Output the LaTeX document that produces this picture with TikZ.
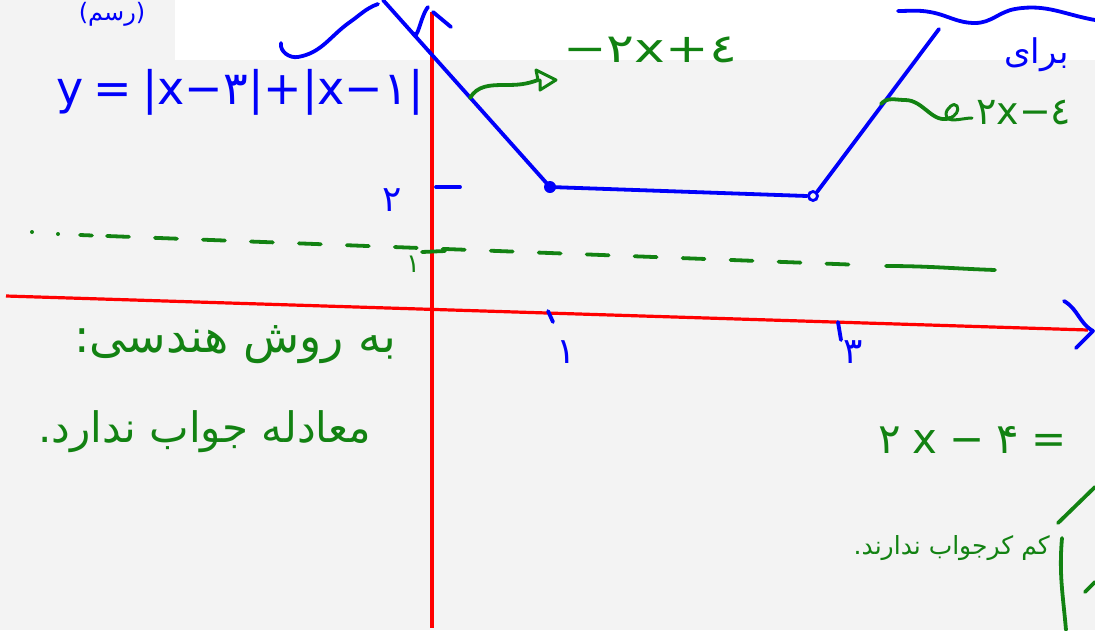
\documentclass[tikz,border=0pt]{standalone}
\usepackage{fontspec}
\newfontfamily\fa[Script=Arabic]{DejaVu Sans}
\newfontfamily\dv{DejaVu Sans}
\TeXXeTstate=1
\definecolor{pen}{RGB}{0,0,250}
\definecolor{grn}{RGB}{18,130,18}
\definecolor{rd}{RGB}{255,0,0}
\definecolor{paper}{RGB}{243,243,243}
\begin{document}
\begin{tikzpicture}[x=1pt,y=-1pt,
  bl/.style={draw=pen,line width=3.8pt,line cap=round,line join=round},
  gr/.style={draw=grn,line width=3.8pt,line cap=round,line join=round},
  ax/.style={draw=rd,line width=3.2pt},
  btxt/.style={text=pen,inner sep=0pt},
  gtxt/.style={text=grn,inner sep=0pt}]
\useasboundingbox (0,0) rectangle (1095,630);
\fill[paper] (0,0) rectangle (1095,630);
\fill[white] (175,0) rectangle (1095,60);
% axes
\coordinate (xs) at (6,296);
\coordinate (xe) at (1088,330);
\coordinate (ys) at (432,12);
\coordinate (ye) at (432,628);
\draw[ax] (xs) -- (xe);
\draw[ax] (ys) -- (ye);
% axis arrow heads (blue, hand drawn)
\draw[bl] (1064,301) to[out=-30,in=150] (1093,331) -- (1076,348);
\draw[bl] (413,33) to[out=-70,in=230] (428,7);
\draw[bl] (433,12) -- (451,27);
% graph
\coordinate (g0) at (383,0);
\node[circle,fill=pen,inner sep=0pt,minimum size=12pt] (p1) at (550,187) {};
\node[circle,draw=pen,line width=2.8pt,inner sep=0pt,minimum size=9pt] (p3) at (813,196) {};
\coordinate (g4) at (939,29);
\draw[bl] (g0) -- (p1.center) to[out=-2,in=178] (p3.west);
\draw[bl] (p3.north east) -- (g4);
% top waves
\draw[bl] (281,43) to[out=-100,in=190] (298,57) to[out=10,in=215] (350,22) to[out=35,in=200] (378,4);
\draw[bl] (898,11) to[out=0,in=170] (930,12) to[out=-10,in=180] (975,23) to[out=0,in=190] (1015,9) to[out=10,in=170] (1095,20);
% ticks
\draw[bl] (436,187) -- (460,187);
\draw[bl] (548,311) -- (553,322);
\draw[bl] (838,322) -- (841,340);
% dashed line y=1
\fill[grn] (32,232) circle (2pt);
\fill[grn] (58,234) circle (2pt);
\draw[gr,dash pattern=on 12pt off 14pt] (80,235) -- (105,236);
\draw[gr,dash pattern=on 22pt off 26pt] (107,236) -- (862,265);
\draw[gr] (886,266) to[out=0,in=178] (995,270);
\draw[gr] (422,252) -- (445,251);
% tick labels
\node[btxt,font=\dv\fontsize{36}{36}\selectfont] (l2) at (392,200) {۲};
\node[gtxt,font=\dv\fontsize{26}{26}\selectfont] (l1y) at (413,264) {۱};
\node[btxt,font=\dv\fontsize{36}{36}\selectfont] (l1x) at (566,352) {۱};
\node[btxt,font=\dv\fontsize{36}{36}\selectfont] (l3x) at (853,352) {۳};
% equation
\node[btxt,font=\dv\fontsize{46}{46}\selectfont] (eq) at (240,92) {y\kern10pt=\kern10pt|x−۳|+|x−۱|};
\node[btxt,font=\fa\fontsize{24}{24}\selectfont] (tl) at (112,14) {\beginR(رسم)\endR};
\node[btxt,font=\fa\fontsize{34}{34}\selectfont,anchor=west] (tr) at (1004,55) {\beginR برای\endR};
% green labels on branches
\node[gtxt,font=\dv\fontsize{40}{40}\selectfont,anchor=west,xscale=1.3] (lab1) at (563,50) {−۲x+٤};
\node[gtxt,font=\dv\fontsize{38}{38}\selectfont,anchor=west] (lab2) at (976,113) {۲x−٤};
\coordinate (c1) at (470,98);
\coordinate (c2) at (881,104);
\draw[gr] (c1) to[out=60,in=180] (505,85) to[out=0,in=200] (538,80);
\draw[gr,line width=3pt] (538,80) -- (536,70) -- (556,80) -- (540,90) -- (540,80);
\draw[gr] (c2) to[out=50,in=180] (905,100) to[out=0,in=200] (950,118);
\draw[gr,line width=3pt] (950,118) to[out=20,in=-60] (957,106) to[out=120,in=90] (946,114) to[out=-90,in=180] (972,118);
% bottom texts
\node[gtxt,font=\fa\fontsize{46}{46}\selectfont] (t1) at (235,345) {\beginR به روش هندسی:\endR};
\node[gtxt,font=\fa\fontsize{42}{42}\selectfont] (t2) at (205,432) {\beginR معادله جواب ندارد.\endR};
\node[gtxt,font=\dv\fontsize{42}{42}\selectfont,anchor=west] (t3) at (878,440) {۲\kern12pt x\kern12pt−\kern12pt۴\kern12pt=};
\node[gtxt,font=\fa\fontsize{25}{25}\selectfont,anchor=east] (t4) at (1050,548) {\beginR کم کرجواب ندارند.\endR};
\draw[gr] (1095,487) -- (1058,523);
\draw[gr] (1062,538) to[out=-95,in=95] (1066,630);
\draw[gr] (1085,592) -- (1095,582);
\end{tikzpicture}
\end{document}
